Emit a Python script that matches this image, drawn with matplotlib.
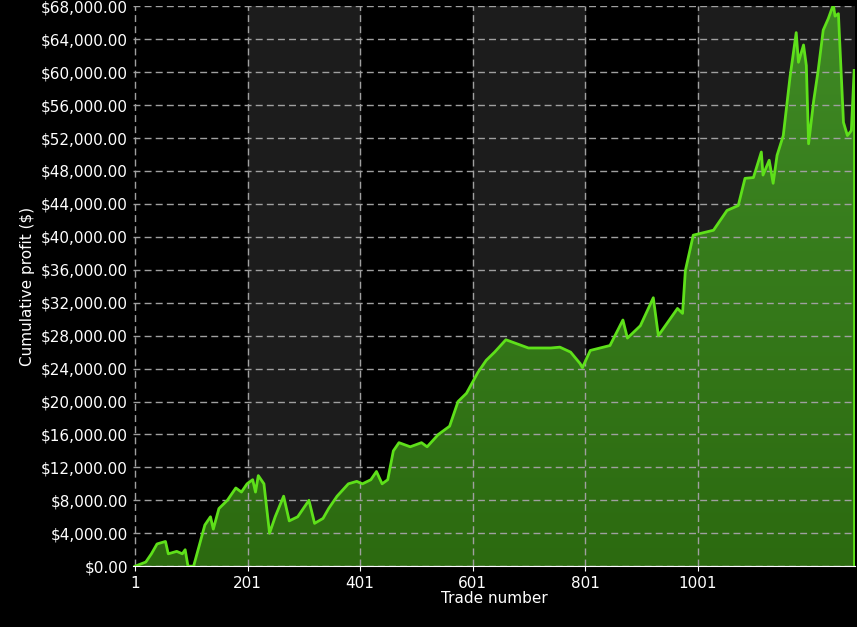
import numpy as np
import matplotlib.pyplot as plt
from matplotlib.ticker import FuncFormatter

# cumulative profit (trade number, $)
trades = [1, 20, 30, 40, 55, 60, 75, 85, 90, 95, 105, 115, 125, 135, 140, 150, 165, 180, 190,
          200, 210, 215, 220, 230, 240, 250, 265, 275, 290, 310, 320, 335, 345, 360, 380, 395,
          405, 420, 430, 440, 450, 460, 470, 490, 510, 520, 540, 560, 575, 590, 610, 625, 640,
          660, 680, 700, 740, 756, 775, 792, 796, 810, 845, 868, 876, 899, 922, 931, 965, 974,
          979, 993, 1029, 1053, 1073, 1085, 1100, 1114, 1117, 1128, 1135, 1142, 1153, 1165,
          1176, 1180, 1189, 1194, 1198, 1207, 1215, 1224, 1233, 1242, 1245, 1251, 1260, 1267,
          1274, 1279]
profit = [0, 500, 1500, 2700, 3000, 1500, 1800, 1500, 2000, 0, 0, 2500, 5000, 6000, 4500, 7000,
          8000, 9500, 9000, 10000, 10500, 9000, 11000, 10000, 4000, 6000, 8500, 5500, 6000, 8000,
          5200, 5800, 7000, 8500, 10000, 10300, 10000, 10500, 11500, 10000, 10500, 14000, 15000,
          14500, 15000, 14500, 16000, 17000, 20000, 21000, 23500, 25000, 26000, 27500, 27000,
          26500, 26500, 26600, 26000, 24600, 24100, 26200, 26800, 29900, 27700, 29200, 32600,
          28000, 31300, 30700, 35900, 40200, 40800, 43200, 43800, 47100, 47200, 50300, 47500,
          49300, 46500, 49900, 52300, 59400, 64800, 61200, 63300, 60800, 51300, 56500, 60200,
          65100, 66500, 68200, 66800, 67100, 53900, 52300, 52900, 60200]
x_ticks = [1, 201, 401, 601, 801, 1001]
band_starts = [201, 601, 1001]

x_min, x_max = -3, 1281
fig = plt.figure(figsize=(8.57, 6.27), dpi=100, facecolor='black')
ax = fig.add_axes([0.155, 0.097, 0.843, 0.893], facecolor='black')

for b in band_starts:
    ax.axvspan(b, x_max if b == band_starts[-1] else b + 200, color='#1c1c1c', zorder=0)

# gradient fill under the curve
poly_x = trades + [trades[-1], trades[0]]
poly_y = profit + [0, 0]
patch = ax.fill(poly_x, poly_y, color='none', zorder=2)[0]
grad = np.linspace(0, 1, 256).reshape(-1, 1)
img = ax.imshow(grad, extent=[x_min, x_max, 0, 68000], aspect='auto', origin='lower',
                cmap=plt.matplotlib.colors.LinearSegmentedColormap.from_list('g', ['#2c6a10', '#3f8a25']),
                zorder=2)
img.set_clip_path(patch)
ax.plot(trades, profit, color='#5ee01a', lw=2, zorder=4)
ax.plot([trades[-1], trades[-1]], [profit[-1], 0], color='#5ee01a', lw=2, zorder=4)

ax.set_xlim(x_min, x_max)
ax.set_ylim(0, 68000)
ax.set_yticks(np.arange(0, 68001, 4000))
ax.yaxis.set_major_formatter(FuncFormatter(lambda v, p: f'${v:,.2f}'))
ax.set_xticks(x_ticks)
ax.grid(True, color='#a0a0a0', ls=(0, (5, 3)), lw=1, zorder=3)
ax.set_axisbelow(False)
for s in ['top', 'right', 'left']:
    ax.spines[s].set_visible(False)
ax.spines['bottom'].set_color('white')
ax.tick_params(colors='white', labelsize=11)
ax.tick_params(axis='y', length=0)
ax.set_xlabel('Trade number', color='white', fontsize=11, labelpad=0)
ax.set_ylabel('Cumulative profit ($)', color='white', fontsize=11)

fig.savefig('out.png', dpi=100, facecolor='black')
